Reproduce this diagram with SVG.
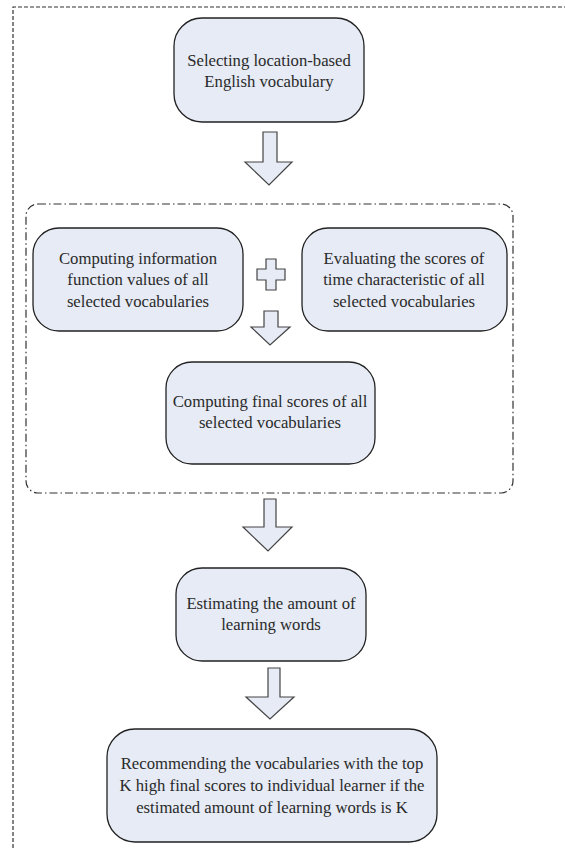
<svg xmlns="http://www.w3.org/2000/svg" width="565" height="848" viewBox="0 0 565 848">
<style>
.node rect{fill:#e6ebf5;stroke:#222;stroke-width:1.3}
text{font-family:'Liberation Serif','Times New Roman',Times,serif;font-size:16.7px;fill:#2a2a2a;text-anchor:middle}
.arrow{fill:#e6ebf5;stroke:#444;stroke-width:1.2;stroke-linejoin:miter}
</style>
<rect width="565" height="848" fill="#fff"/>
<path d="M13,848 V7 H565" fill="none" stroke="#333" stroke-width="1.2" stroke-dasharray="4,2"/>
<rect id="group" x="26" y="204" width="487" height="289" rx="12" fill="none" stroke="#333" stroke-width="1.2" stroke-dasharray="8,3,1.5,3"/>
<g id="n1" class="node"><rect x="174" y="18" width="190" height="104" rx="28"/><text x="269" y="66">Selecting location-based</text><text x="269" y="87">English vocabulary</text></g>
<g id="n2" class="node"><rect x="33" y="228" width="210" height="103" rx="26"/><text x="138" y="264">Computing information</text><text x="138" y="285">function values of all</text><text x="138" y="307">selected vocabularies</text></g>
<g id="n3" class="node"><rect x="302" y="228" width="205" height="103" rx="26"/><text x="404" y="264">Evaluating the scores of</text><text x="404" y="285">time characteristic of all</text><text x="404" y="307">selected vocabularies</text></g>
<g id="n4" class="node"><rect x="166" y="362" width="209" height="102" rx="26"/><text x="270" y="407">Computing final scores of all</text><text x="270" y="428">selected vocabularies</text></g>
<g id="n5" class="node"><rect x="176" y="568" width="190" height="93" rx="26"/><text x="271" y="609">Estimating the amount of</text><text x="271" y="630">learning words</text></g>
<g id="n6" class="node"><rect x="107" y="729" width="330" height="113" rx="28"/><text x="272" y="769">Recommending the vocabularies with the top</text><text x="272" y="791">K high final scores to individual learner if the</text><text x="272" y="813">estimated amount of learning words is K</text></g>
<g id="connectors">
<path class="arrow" d="M263,132 H277 V162 H292 L269,185 L245,162 H263 Z"/>
<path class="arrow" d="M264,311 H278 V327 H290 L270,345 L251,327 H264 Z"/>
<path class="arrow" d="M264,499 H276 V527 H292 L268,551 L243,527 H264 Z"/>
<path class="arrow" d="M268,668 H280 V697 H294 L270,719 L246,697 H268 Z"/>
<path class="arrow" d="M266,259 H276 V269 H285 V280 H276 V290 H266 V280 H257 V269 H266 Z"/>
</g>
</svg>
